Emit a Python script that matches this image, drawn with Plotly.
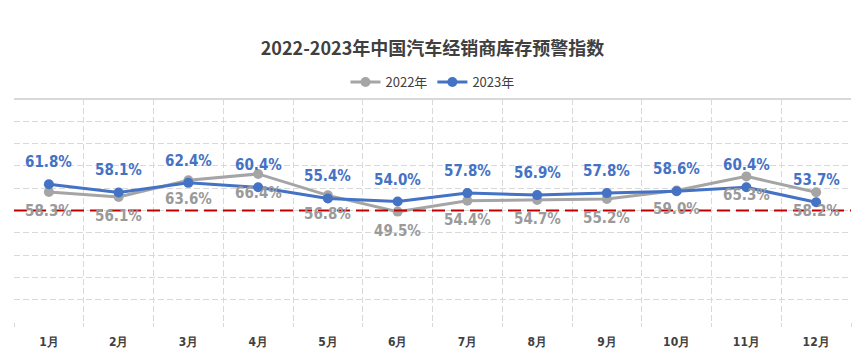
import plotly.graph_objects as go

months = ["1月", "2月", "3月", "4月", "5月", "6月", "7月", "8月", "9月", "10月", "11月", "12月"]
v2022 = [58.3, 56.1, 63.6, 66.4, 56.8, 49.5, 54.4, 54.7, 55.2, 59.0, 65.3, 58.2]
v2023 = [61.8, 58.1, 62.4, 60.4, 55.4, 54.0, 57.8, 56.9, 57.8, 58.6, 60.4, 53.7]
warning_line = 50
title = "2022-2023年中国汽车经销商库存预警指数"

GRAY = "#A5A5A5"
GRAY_TXT = "#9A9A9A"
BLUE = "#4472C4"
LABEL_FONT = "DejaVu Sans Condensed"

# page body has an 8px default margin; figure sized to fit the 865x360 window
W, H = 849, 344

fig = go.Figure()
fig.add_trace(go.Scatter(x=months, y=v2022, name="2022年", mode="lines+markers",
                         line=dict(color=GRAY, width=3), marker=dict(size=10, color=GRAY)))
fig.add_trace(go.Scatter(x=months, y=v2023, name="2023年", mode="lines+markers",
                         line=dict(color=BLUE, width=3), marker=dict(size=10, color=BLUE)))

annotations = []
for m, v in zip(months, v2022):
    annotations.append(dict(x=m, y=v, text=f"{v:.1f}%", showarrow=False, yshift=-19,
                            font=dict(family=LABEL_FONT, size=15, color=GRAY_TXT, weight="bold")))
for m, v in zip(months, v2023):
    annotations.append(dict(x=m, y=v, text=f"{v:.1f}%", showarrow=False, yshift=22,
                            font=dict(family=LABEL_FONT, size=15, color=BLUE, weight="bold")))

fig.update_layout(
    width=W, height=H,
    margin=dict(l=6, r=6, t=91, b=30, autoexpand=False),
    paper_bgcolor="white", plot_bgcolor="white",
    title=dict(text=title, x=0.5, xanchor="center", y=1 - 41 / H, yanchor="middle",
               font=dict(family="Noto Sans CJK SC", size=18, color="#404040", weight="bold")),
    legend=dict(orientation="h", x=0.5, xanchor="center", y=1.076, yanchor="middle",
                font=dict(family="Noto Sans CJK SC", size=13, color="#404040"),
                itemwidth=30, bgcolor="rgba(0,0,0,0)"),
    showlegend=True,
    annotations=annotations,
    xaxis=dict(type="category", tickson="boundaries", showgrid=True, gridcolor="#D9D9D9",
               griddash="6px,3px", gridwidth=1, ticks="outside", ticklen=4, tickcolor="#D9D9D9",
               showline=False, zeroline=False, range=[-0.5, 11.5],
               tickfont=dict(family=LABEL_FONT, size=12, color="#404040", weight="bold"),
               ticklabelstandoff=11),
    yaxis=dict(range=[0, 100], dtick=10, showgrid=True, gridcolor="#D9D9D9", griddash="6px,3px",
               gridwidth=1, showticklabels=False, zeroline=False, showline=False),
    shapes=[
        dict(type="line", xref="paper", yref="y", x0=0, x1=1, y0=warning_line, y1=warning_line,
             line=dict(color="#C00000", width=2, dash="13px,6px"), layer="above"),
        dict(type="line", xref="paper", yref="paper", x0=0, x1=1, y0=1, y1=1,
             line=dict(color="#D9D9D9", width=2)),
    ],
)

fig.write_html("out.html")
